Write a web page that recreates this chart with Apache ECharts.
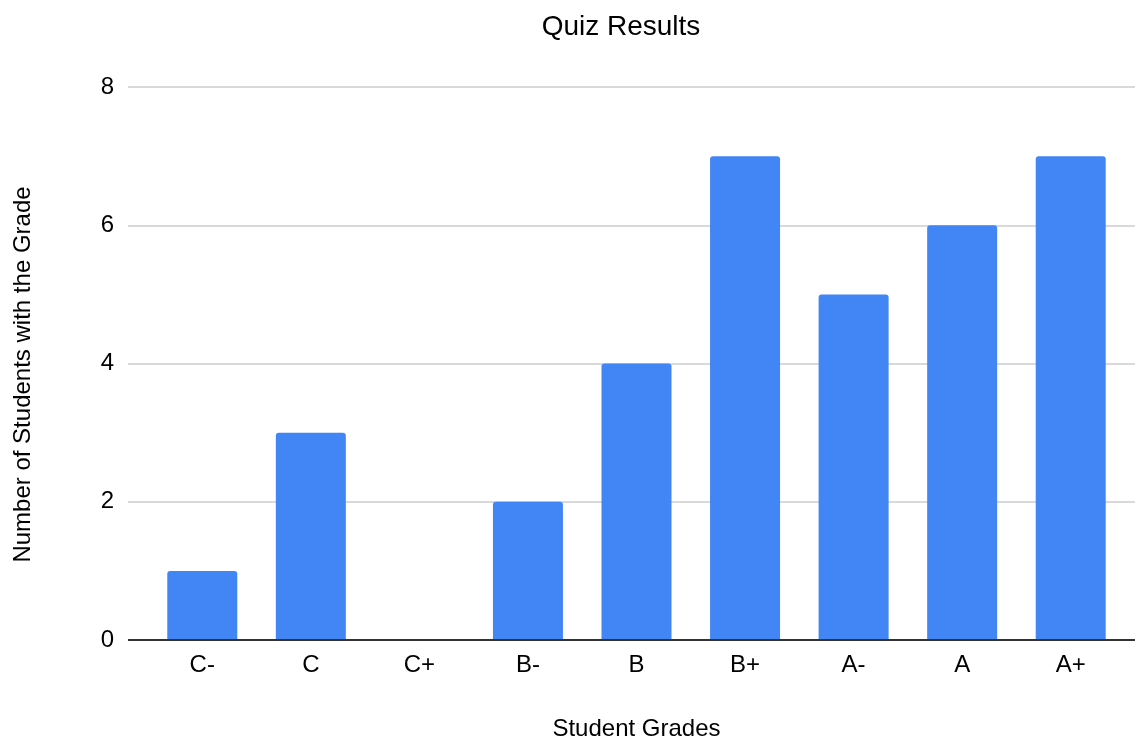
<!DOCTYPE html>
<html>
<head>
<meta charset="utf-8">
<script src="https://cdn.jsdelivr.net/npm/echarts@6/dist/echarts.min.js"></script>
<style>html,body{margin:0;padding:0;background:#fff}#c{width:1137px;height:742px}</style>
</head>
<body>
<div id="c"></div>
<script>
var categories = ['C-', 'C', 'C+', 'B-', 'B', 'B+', 'A-', 'A', 'A+'];
var values = [1, 3, 0, 2, 4, 7, 5, 6, 7];
var yTicks = [0, 2, 4, 6, 8];

var font = 'Liberation Sans, Arial, sans-serif';
var chart = echarts.init(document.getElementById('c'));
chart.setOption({
  animation: false,
  title: {
    text: 'Quiz Results', left: 616, top: 8, textAlign: 'center',
    textStyle: { fontFamily: font, fontSize: 28, fontWeight: 'normal', color: '#000' }
  },
  grid: [
    { left: 148, right: 12, top: 87, bottom: 102, outerBoundsMode: 'none', containLabel: false },
    { left: 128, right: 2, top: 87, bottom: 102, outerBoundsMode: 'none', containLabel: false }
  ],
  xAxis: [
    {
      gridIndex: 0, type: 'category', data: categories,
      axisLine: { show: false }, axisTick: { show: false },
      axisLabel: { fontFamily: font, fontSize: 24, color: '#000', margin: 13 },
      name: 'Student Grades', nameLocation: 'middle', nameGap: 77,
      nameTextStyle: { fontFamily: font, fontSize: 24, color: '#000' }
    },
    {
      gridIndex: 1, type: 'value', min: 0, max: 1, show: true,
      axisLine: { show: false }, axisTick: { show: false }, axisLabel: { show: false },
      splitLine: { show: false }
    }
  ],
  yAxis: [
    {
      gridIndex: 0, type: 'value', min: 0, max: 8, interval: 2,
      axisLine: { show: false }, axisTick: { show: false }, axisLabel: { show: false },
      splitLine: { show: false }
    },
    {
      gridIndex: 1, type: 'value', min: yTicks[0], max: yTicks[yTicks.length - 1], interval: 2,
      axisLine: { show: false }, axisTick: { show: false },
      axisLabel: { fontFamily: font, fontSize: 24, color: '#000', margin: 14 },
      splitLine: { show: true, lineStyle: { color: '#cccccc', width: 1.5 } },
      name: 'Number of Students with the Grade', nameLocation: 'middle', nameGap: 93,
      nameTextStyle: { fontFamily: font, fontSize: 24, color: '#000', padding: [0, 22, 0, 0] }
    }
  ],
  series: [
    {
      type: 'bar', xAxisIndex: 0, yAxisIndex: 0, data: values,
      barWidth: 70,
      itemStyle: { color: '#4285f4', borderRadius: [3, 3, 0, 0] }
    },
    {
      type: 'line', xAxisIndex: 1, yAxisIndex: 1, data: [[0, 0], [1, 0]],
      symbol: 'none', silent: true, z: 5,
      lineStyle: { color: '#333333', width: 2 }
    }
  ]
});
</script>
</body>
</html>
